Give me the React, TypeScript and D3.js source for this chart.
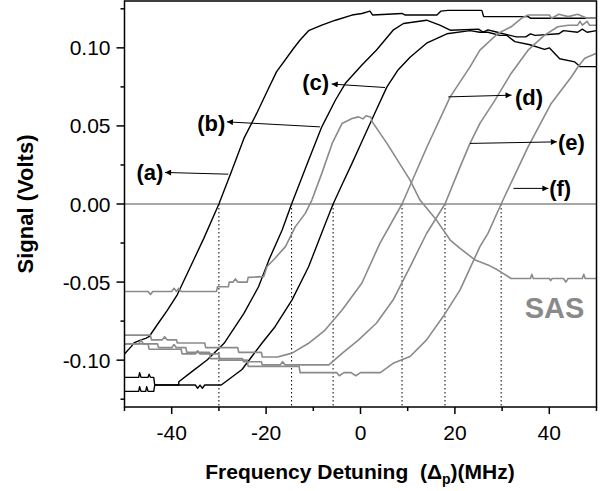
import React from 'react';
import * as d3 from 'd3';

type P = [number, number];

const curveA: P[] = [[-50,-0.096],[-48.5,-0.091],[-48,-0.089],[-46.5,-0.087],[-45.5,-0.086],[-44.8,-0.085],[-43.1,-0.0775],[-40.9,-0.068],[-38.8,-0.058],[-36,-0.040],[-33.2,-0.022],[-30,0.0],[-27.5,0.0196],[-24.7,0.042],[-22,0.058],[-19.8,0.072],[-17.8,0.0846],[-14.2,0.0996],[-12.8,0.105],[-11,0.111],[-8.2,0.1145],[-5.3,0.1177],[-1.8,0.121],[0.3,0.122],[2,0.1235],[2.6,0.121],[8.8,0.122],[9.5,0.121],[16.2,0.121],[17,0.1235],[18.5,0.124],[25.7,0.124],[26.1,0.120],[35.5,0.120],[36,0.119],[50,0.119]];

const curveB: P[] = [[-50,-0.111],[-47,-0.111],[-46.8,-0.108],[-46.5,-0.111],[-45,-0.111],[-44.8,-0.109],[-44.5,-0.111],[-43.8,-0.111],[-43.6,-0.1159],[-38.5,-0.1159],[-38.5,-0.1138],[-36,-0.108],[-32.5,-0.0999],[-28.9,-0.0892],[-24.7,-0.070],[-21.6,-0.053],[-19.4,-0.0358],[-16.6,-0.0166],[-14.6,0.0],[-11,0.028],[-8.2,0.0494],[-5.3,0.0666],[-3.2,0.0773],[0.3,0.089],[3.4,0.0986],[6.9,0.1113],[9.1,0.1156],[14,0.1177],[16.8,0.1145],[19,0.1113],[25,0.112],[26,0.110],[27,0.1115],[29,0.110],[33,0.107],[35,0.107],[36,0.109],[37,0.108],[42,0.109],[43,0.111],[46,0.110],[47,0.112],[48,0.110],[50,0.111]];

const curveC: P[] = [[-50,-0.120],[-47,-0.120],[-46.8,-0.117],[-46.5,-0.120],[-45.5,-0.120],[-45.3,-0.117],[-45,-0.120],[-43.8,-0.120],[-43.6,-0.1159],[-35,-0.1159],[-34.5,-0.118],[-34,-0.116],[-33.5,-0.118],[-33,-0.1159],[-29.5,-0.1159],[-25.1,-0.106],[-20.9,-0.0892],[-18.1,-0.0786],[-14.5,-0.0614],[-11,-0.0402],[-7.5,-0.013],[-5.8,0.0],[-3.9,0.0125],[-1.8,0.026],[0.3,0.040],[3,0.058],[5.6,0.075],[8,0.086],[10.5,0.094],[14,0.103],[18.3,0.109],[23.2,0.111],[25.3,0.110],[27,0.110],[29.5,0.108],[31,0.108],[32.7,0.104],[35.9,0.102],[39,0.099],[40,0.100],[42.2,0.093],[45.4,0.091],[46.5,0.088],[50,0.088]];

const curveD: P[] = [[-50,-0.084],[-44.5,-0.084],[-44.3,-0.087],[-42,-0.087],[-41.5,-0.085],[-41,-0.087],[-39,-0.087],[-38.8,-0.089],[-33,-0.089],[-32.8,-0.092],[-26,-0.092],[-25.8,-0.095],[-21,-0.095],[-20.8,-0.098],[-17.6,-0.098],[-14.5,-0.0955],[-11,-0.0892],[-7.5,-0.0807],[-3.9,-0.0679],[0.3,-0.0506],[4.1,-0.0252],[8.8,0.0],[14,0.036],[19,0.0686],[23.2,0.0878],[25.3,0.0985],[29.1,0.1092],[31.9,0.1135],[34.1,0.1189],[35.5,0.121],[40,0.121],[40.5,0.119],[42,0.1215],[44,0.120],[46,0.1215],[48,0.119],[50,0.119]];

const curveE: P[] = [[-50,-0.0896],[-47,-0.0896],[-46.5,-0.087],[-46,-0.0896],[-43,-0.0896],[-42.8,-0.092],[-40,-0.092],[-39.5,-0.090],[-39,-0.092],[-37,-0.092],[-36.8,-0.095],[-32,-0.095],[-31.8,-0.099],[-25,-0.099],[-24.8,-0.101],[-21,-0.101],[-20.8,-0.103],[-17,-0.103],[-16.5,-0.101],[-16,-0.103],[-6.7,-0.103],[-3.9,-0.0956],[-0.4,-0.087],[3.4,-0.0762],[6.9,-0.0615],[10.5,-0.0402],[14,-0.0189],[17.9,0.0],[21.1,0.0238],[23.2,0.0388],[25.3,0.0516],[28.4,0.066],[31.9,0.0836],[35.5,0.0985],[39,0.1081],[41.8,0.1135],[44,0.1145],[46,0.1145],[46.5,0.117],[47,0.1145],[48,0.117],[48.5,0.1145],[50,0.1145]];

const curveF: P[] = [[-50,-0.0896],[-45,-0.0896],[-44.8,-0.093],[-38,-0.093],[-37.8,-0.096],[-35,-0.096],[-34.5,-0.094],[-34,-0.096],[-30,-0.096],[-29.8,-0.100],[-24,-0.100],[-23.8,-0.104],[-13,-0.104],[-12.8,-0.108],[-5,-0.108],[-4.5,-0.110],[-3.5,-0.108],[-2,-0.108],[-1,-0.110],[0,-0.108],[4.2,-0.108],[6.9,-0.102],[10.5,-0.0977],[14,-0.087],[17.5,-0.0721],[21.1,-0.055],[25.3,-0.0273],[27,-0.0188],[29.8,0.0],[35.5,0.0366],[40.4,0.0644],[44.7,0.0815],[46.1,0.0879],[47.5,0.0933],[50,0.0965]];

const curveSAS: P[] = [[-50,-0.056],[-45,-0.056],[-44.5,-0.058],[-44,-0.056],[-40,-0.056],[-39.5,-0.054],[-39,-0.056],[-38.5,-0.054],[-38,-0.056],[-30.5,-0.056],[-30.3,-0.053],[-28,-0.053],[-27.8,-0.050],[-27,-0.050],[-26.5,-0.048],[-26,-0.050],[-24,-0.050],[-23.8,-0.047],[-20.5,-0.0465],[-19.8,-0.040],[-18.1,-0.0347],[-15.9,-0.0273],[-13.8,-0.0145],[-11.7,-0.006],[-10.3,0.0025],[-8.2,0.0196],[-6,0.0388],[-3.9,0.0516],[-1.8,0.0548],[-0.4,0.0558],[0.5,0.0545],[1.2,0.0565],[2.2,0.0555],[2.5,0.0526],[5.6,0.0388],[10.5,0.0153],[12.6,0.0025],[16.1,-0.0103],[19,-0.0231],[21.1,-0.0284],[24.3,-0.0359],[27,-0.039],[29.1,-0.0423],[31.9,-0.0477],[36,-0.0477],[36.3,-0.045],[36.6,-0.0477],[40,-0.0477],[40.3,-0.049],[40.6,-0.0477],[43,-0.0477],[43.5,-0.050],[44,-0.0477],[47,-0.0477],[47.3,-0.045],[47.6,-0.0477],[50,-0.0477]];

const zeroCrossings = [-30, -14.6, -5.8, 8.8, 17.9, 29.8];

const xMajor = [-40, -20, 0, 20, 40];
const xMinor = [-50, -30, -10, 10, 30, 50];
const yMajor = [-0.1, -0.05, 0, 0.05, 0.1];
const yMinor = [-0.125, -0.075, -0.025, 0.025, 0.075, 0.125];
const yTickLabels = ['-0.10', '-0.05', '0.00', '0.05', '0.10'];
const xTickLabels = ['-40', '-20', '0', '20', '40'];

// label, text position, arrow start (on curve), arrow end (near label)
const labels: { text: string; tx: number; ty: number; x1: number; y1: number; x2: number; y2: number }[] = [
  { text: '(a)', tx: -44.6, ty: 0.0204, x1: -28.0, y1: 0.0191, x2: -41.4, y2: 0.0202 },
  { text: '(b)', tx: -31.6, ty: 0.0516, x1: -8.6, y1: 0.0494, x2: -28.3, y2: 0.0526 },
  { text: '(c)', tx: -9.5, ty: 0.0782, x1: 5.2, y1: 0.0746, x2: -6.1, y2: 0.0768 },
  { text: '(d)', tx: 35.7, ty: 0.0686, x1: 18.6, y1: 0.0686, x2: 32.0, y2: 0.0697 },
  { text: '(e)', tx: 44.7, ty: 0.0398, x1: 23.2, y1: 0.0388, x2: 41.6, y2: 0.0398 },
  { text: '(f)', tx: 42.3, ty: 0.0100, x1: 32.4, y1: 0.0100, x2: 39.8, y2: 0.0100 },
];

const BLACK = '#000000';
const GRAY = '#8a8a8a';

const series = [
  { name: 'a', color: BLACK, data: curveA },
  { name: 'b', color: BLACK, data: curveB },
  { name: 'c', color: BLACK, data: curveC },
  { name: 'SAS', color: GRAY, data: curveSAS },
  { name: 'd', color: GRAY, data: curveD },
  { name: 'e', color: GRAY, data: curveE },
  { name: 'f', color: GRAY, data: curveF },
];

const FONT = '"Liberation Sans", Arial, Helvetica, sans-serif';

export default function App() {
  const W = 602, H = 491;
  const left = 124.5, right = 596.5, top = 1, bottom = 407;
  const x = d3.scaleLinear().domain([-50, 50]).range([left, right]);
  const y = d3.scaleLinear().domain([-0.13, 0.13]).range([bottom, top]);
  const line = d3.line<P>().x(d => x(d[0])).y(d => y(d[1]));

  return (
    <svg width={W} height={H} style={{ position: 'absolute', left: 0, top: 0, background: '#fff' }} fontFamily={FONT}>
      <defs>
        <clipPath id="plot">
          <rect x={left} y={top} width={right - left} height={bottom - top} />
        </clipPath>
        <marker id="arrow" viewBox="0 0 10 10" refX="10" refY="5" markerWidth="9" markerHeight="6" markerUnits="userSpaceOnUse" orient="auto">
          <path d="M0,0 L10,5 L0,10 z" fill="#000" />
        </marker>
      </defs>
      <rect x={0} y={0} width={W} height={H} fill="#fff" />

      {/* zero line */}
      <line x1={left} x2={right} y1={y(0)} y2={y(0)} stroke={GRAY} strokeWidth={1.5} />

      {/* dotted guides */}
      {zeroCrossings.map((v, i) => (
        <line key={i} x1={x(v)} x2={x(v)} y1={y(0)} y2={bottom} stroke="#000" strokeWidth={1} strokeDasharray="1.5,2.5" />
      ))}

      <g clipPath="url(#plot)">
        {series.map(s => (
          <path key={s.name} d={line(s.data) || ''} fill="none" stroke={s.color} strokeWidth={s.color === BLACK ? 1.4 : 1.6} strokeLinejoin="round" />
        ))}
      </g>

      {/* annotations */}
      {labels.map(l => (
        <g key={l.text}>
          <line x1={x(l.x1)} y1={y(l.y1)} x2={x(l.x2)} y2={y(l.y2)} stroke="#000" strokeWidth={1} markerEnd="url(#arrow)" />
          <text x={x(l.tx)} y={y(l.ty)} dy="0.36em" textAnchor="middle" fontSize={22} fontWeight="bold" fill="#000">{l.text}</text>
        </g>
      ))}
      <text x={x(41.1)} y={y(-0.0731)} textAnchor="middle" fontSize={29} fontWeight="bold" fill={GRAY}>SAS</text>

      {/* frame */}
      <rect x={left} y={top} width={right - left} height={bottom - top} fill="none" stroke="#000" strokeWidth={1.5} />

      {/* y ticks */}
      {yMajor.map((v, i) => (
        <g key={'ym' + i}>
          <line x1={left - 8} x2={left} y1={y(v)} y2={y(v)} stroke="#000" strokeWidth={1.5} />
          <text x={left - 14} y={y(v)} dy="0.36em" textAnchor="end" fontSize={21} fill="#000">{yTickLabels[i]}</text>
        </g>
      ))}
      {yMinor.map((v, i) => (
        <line key={'yn' + i} x1={left - 4} x2={left} y1={y(v)} y2={y(v)} stroke="#000" strokeWidth={1.5} />
      ))}

      {/* x ticks */}
      {xMajor.map((v, i) => (
        <g key={'xm' + i}>
          <line x1={x(v)} x2={x(v)} y1={bottom} y2={bottom + 7} stroke="#000" strokeWidth={1.5} />
          <text x={x(v)} y={440} textAnchor="middle" fontSize={21} fill="#000">{xTickLabels[i]}</text>
        </g>
      ))}
      {xMinor.map((v, i) => (
        <line key={'xn' + i} x1={x(v)} x2={x(v)} y1={bottom} y2={bottom + 4} stroke="#000" strokeWidth={1.5} />
      ))}

      {/* axis titles */}
      <text x={360} y={479} textAnchor="middle" fontSize={21} fontWeight="bold" fill="#000">
        Frequency Detuning{'\u00a0\u00a0'}(Δ<tspan fontSize={14} dy={5}>p</tspan><tspan dy={-5}>)(MHz)</tspan>
      </text>
      <text transform={`translate(33,${y(0)}) rotate(-90)`} textAnchor="middle" fontSize={22} fontWeight="bold" fill="#000">Signal (Volts)</text>
    </svg>
  );
}
